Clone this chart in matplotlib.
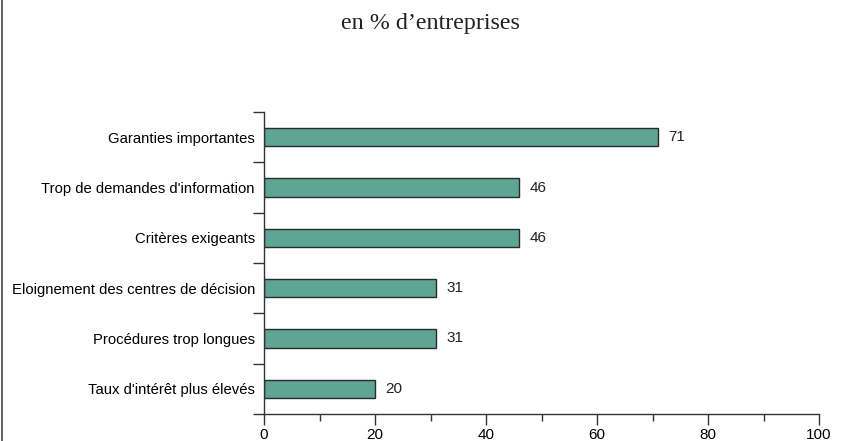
import matplotlib.pyplot as plt
import numpy as np
from matplotlib.ticker import MultipleLocator

categories = [
    "Garanties importantes",
    "Trop de demandes d'information",
    "Critères exigeants",
    "Eloignement des centres de décision",
    "Procédures trop longues",
    "Taux d'intérêt plus élevés",
]
values = [71, 46, 46, 31, 31, 20]

plt.rc('font', family=['Liberation Sans', 'DejaVu Sans'], size=10.7)

fig = plt.figure(figsize=(8.44, 4.41), dpi=100, facecolor='w')
ax = fig.add_axes([264 / 844, 1 - 414 / 441, (819 - 264) / 844, (414 - 112) / 441])

# top category first
pos = np.arange(len(categories))[::-1] + 0.5
ax.barh(pos, values, height=0.36, color='#5fa596', edgecolor='#2a2a2a', linewidth=1.0)
for p, v in zip(pos, values):
    ax.text(v + 1.8, p, str(v), va='center', ha='left', fontsize=11, color='#222222')

ax.set_xlim(0, 100)
ax.set_ylim(0, len(categories))
ax.xaxis.set_major_locator(MultipleLocator(20))
ax.xaxis.set_minor_locator(MultipleLocator(10))
ax.set_yticks(np.arange(len(categories) + 1))
ax.set_yticklabels([])
ax.set_yticks(pos, minor=True)
ax.set_yticklabels(categories, minor=True)

ax.tick_params(axis='x', which='major', direction='out', length=8, width=1, color='#333333', labelsize=11, pad=2)
ax.tick_params(axis='x', which='minor', direction='out', length=5, width=1, color='#333333')
ax.tick_params(axis='y', which='major', direction='out', length=8, width=1, color='#333333')
ax.tick_params(axis='y', which='minor', length=0, pad=6.5, labelsize=10.7)

for s in ['top', 'right']:
    ax.spines[s].set_visible(False)
for s in ['left', 'bottom']:
    ax.spines[s].set_color('#333333')
    ax.spines[s].set_linewidth(1)

fig.text(430 / 844, 1 - 23 / 441, "en % d\u2019entreprises", ha='center', va='center',
         fontsize=17.3, family='Liberation Serif', color='#222222')

# frame line on the left edge
fig.add_artist(plt.Line2D([2 / 844, 2 / 844], [0, 1], color='#444444', linewidth=1.2,
                          transform=fig.transFigure))

fig.savefig("out.png", dpi=100)
